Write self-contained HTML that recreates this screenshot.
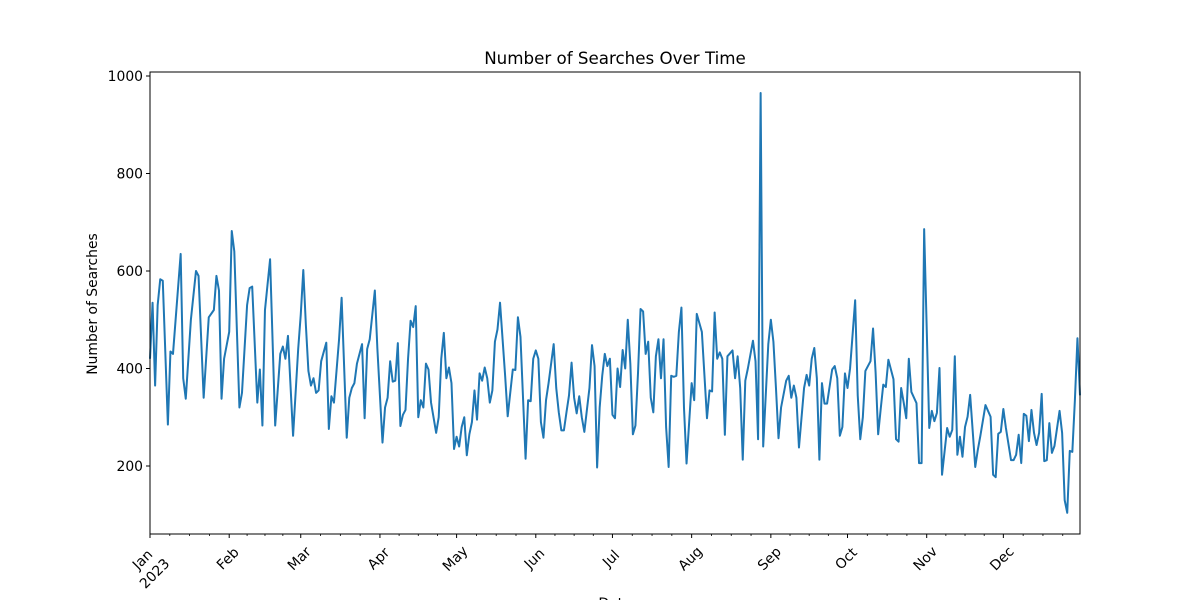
<!DOCTYPE html>
<html>
<head>
<meta charset="utf-8">
<style>
  html, body { margin: 0; padding: 0; background: #ffffff; }
  svg { display: block; font-family: "DejaVu Sans", "Liberation Sans", sans-serif; }
</style>
</head>
<body>
<svg id="chart" width="1200" height="600" viewBox="0 0 1200 600" xmlns="http://www.w3.org/2000/svg">
  <rect x="0" y="0" width="1200" height="600" fill="#ffffff"/>
  <text x="615" y="64" font-size="16.7" text-anchor="middle" fill="#000">Number of Searches Over Time</text>
  <text transform="translate(97,304) rotate(-90)" font-size="13.9" text-anchor="middle" fill="#000">Number of Searches</text>
  <text x="615" y="608" font-size="13.9" text-anchor="middle" fill="#000">Date</text>
  <g id="plot"></g>
</svg>
<script>
const dayIndex = [0,1,2,3,4,5,7,8,9,12,13,14,16,18,19,21,23,25,26,27,28,29,31,32,33,35,36,38,39,40,42,43,44,45,47,49,51,52,53,54,56,58,59,60,61,62,63,64,65,66,67,69,70,71,72,74,75,77,78,79,80,81,83,84,85,86,88,89,91,92,93,94,95,96,97,98,99,100,101,102,103,104,105,106,107,108,109,110,112,113,114,115,116,117,118,119,120,121,122,123,124,125,126,127,128,129,130,131,132,133,134,135,136,137,138,139,140,142,143,144,145,146,147,148,149,150,151,152,153,154,155,156,158,159,160,161,162,163,164,165,166,167,168,169,170,172,173,174,175,176,177,178,179,180,181,182,183,184,185,186,187,188,189,190,191,192,193,194,195,196,197,198,199,200,201,202,203,204,205,206,207,208,209,210,212,213,214,216,218,219,220,221,222,223,224,225,226,228,229,230,231,232,233,234,236,237,238,239,240,242,243,244,245,246,247,249,250,251,252,253,254,256,257,258,259,260,261,262,263,264,265,267,268,269,270,271,272,273,274,276,277,278,279,280,282,283,284,285,286,287,288,289,291,292,293,294,295,296,297,298,300,301,302,303,305,306,307,308,309,310,312,313,314,315,316,317,318,319,320,321,323,324,325,327,329,330,331,332,333,334,335,337,338,339,340,341,342,343,344,345,346,347,348,349,350,351,352,353,354,356,357,358,359,360,361,362,363,364];
const searches = [420,535,365,530,583,580,285,435,430,635,380,338,500,600,590,340,505,520,590,560,338,420,475,682,640,320,350,530,565,568,330,398,283,520,624,283,430,445,420,467,262,440,510,602,490,395,365,380,350,355,415,453,276,343,330,460,545,258,340,360,370,410,450,298,440,460,560,440,248,320,340,415,373,375,452,282,305,315,420,498,485,528,300,335,320,410,398,330,268,300,420,473,380,402,370,235,260,240,280,300,222,265,290,355,295,390,375,402,380,330,355,455,480,535,460,385,302,398,397,505,465,340,215,335,333,420,437,420,290,258,335,370,450,360,310,273,273,310,345,412,340,308,343,300,270,360,448,405,197,320,385,430,405,420,305,298,400,362,438,400,500,410,265,283,390,522,517,430,455,340,310,425,460,380,460,280,198,385,383,385,475,525,320,205,370,335,512,475,298,355,353,515,420,433,420,264,425,437,380,425,360,213,375,400,457,415,255,965,240,450,500,455,360,257,320,375,385,340,365,340,238,360,387,365,420,442,380,213,370,328,328,398,405,380,262,280,390,360,400,540,345,255,300,395,415,482,392,265,317,367,362,418,378,255,250,360,330,298,420,352,329,206,206,686,278,313,292,309,401,182,278,260,274,425,223,260,219,280,301,346,198,233,262,325,301,182,177,266,270,317,278,212,212,223,264,206,307,303,251,315,268,243,268,348,210,212,288,227,241,313,268,130,104,231,229,335,462,345];
const monthLabels = ["Jan","Feb","Mar","Apr","May","Jun","Jul","Aug","Sep","Oct","Nov","Dec"];
const monthStartDays = [0,31,59,90,120,151,181,212,243,273,304,334,365];
const yTickValues = [200,400,600,800,1000];

const NS = "http://www.w3.org/2000/svg";
const L = 150, R = 1080, T = 72, B = 534;
function xScale(d) { return L + (d - 0) / 364 * (R - L); }
function yScale(v) { return 466 + (200 - v) * (390 / 800); }
const plot = document.getElementById('plot');
function mk(tag, attrs) {
  const e = document.createElementNS(NS, tag);
  for (const k in attrs) e.setAttribute(k, attrs[k]);
  return e;
}

let dStr = "";
for (let i = 0; i < dayIndex.length; i++) {
  dStr += (i ? "L" : "M") + xScale(dayIndex[i]).toFixed(2) + "," + yScale(searches[i]).toFixed(2);
}
const line = mk('path', {d: dStr, fill: 'none', stroke: '#1f77b4', 'stroke-width': 2, 'stroke-linejoin': 'round'});


plot.appendChild(line);

const frame = mk('rect', {x: L, y: T, width: R - L, height: B - T, fill: 'none', stroke: '#000', 'stroke-width': 1});


plot.appendChild(frame);

yTickValues.forEach(v => {
  const y = yScale(v);
  const t = mk('line', {x1: L - 4, x2: L, y1: y, y2: y, stroke: '#000', 'stroke-width': 1});
  
  
  plot.appendChild(t);
  const lb = mk('text', {x: L - 7, y: y + 5, 'font-size': 13.9, 'text-anchor': 'end', fill: '#000'});
  
  
  lb.textContent = v;
  plot.appendChild(lb);
});

for (let m = 0; m < 12; m++) {
  const x = xScale(monthStartDays[m]);
  const t = mk('line', {x1: x, x2: x, y1: B, y2: B + 4, stroke: '#000', 'stroke-width': 1});
  
  
  plot.appendChild(t);
  const span = monthStartDays[m + 1] - monthStartDays[m];
  for (let k = 1; k < 4; k++) {
    const xm = xScale(monthStartDays[m] + span * k / 4);
    if (xm > R) continue;
    const mt = mk('line', {x1: xm, x2: xm, y1: B, y2: B + 2, stroke: '#000', 'stroke-width': 0.8});
    
    
    plot.appendChild(mt);
  }
  let cx = x - 1, cy = 559;
  if (m === 0) { cx = x - 7; cy = 560; }
  const lb = mk('text', {transform: 'translate(' + cx + ',' + cy + ') rotate(-45)', 'font-size': 13.9, 'text-anchor': 'middle', 'dominant-baseline': 'central', fill: '#000'});
  
  
  lb.textContent = monthLabels[m];
  plot.appendChild(lb);
  if (m === 0) {
    const yr = mk('text', {transform: 'translate(' + (x + 5) + ',574) rotate(-45)', 'font-size': 13.9, 'text-anchor': 'middle', 'dominant-baseline': 'central', fill: '#000'});
    
    
    yr.textContent = '2023';
    plot.appendChild(yr);
  }
}
</script>
</body>
</html>
